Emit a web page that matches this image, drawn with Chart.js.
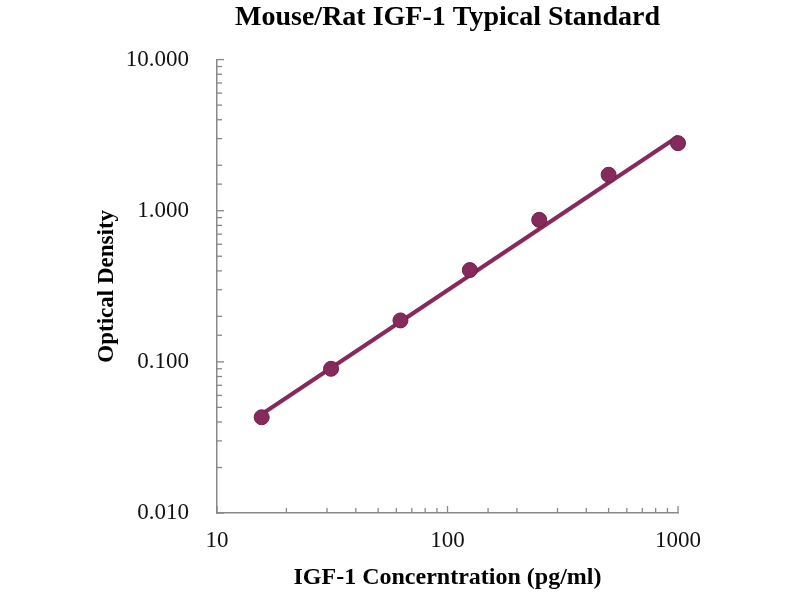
<!DOCTYPE html>
<html>
<head>
<meta charset="utf-8">
<script src="https://cdn.jsdelivr.net/npm/chart.js@4/dist/chart.umd.min.js"></script>
<style>
  html, body { margin: 0; padding: 0; background: #fff; }
  #wrap { width: 800px; height: 600px; }
</style>
</head>
<body>
<div id="wrap"><canvas id="chart"></canvas></div>
<script>
// standard curve points
const concentration = [15.625, 31.25, 62.5, 125, 250, 500, 1000];
const opticalDensity = [0.043, 0.090, 0.188, 0.405, 0.870, 1.73, 2.80];
// fitted line end points
const fitConcentration = [15.625, 1000];
const fitDensity = [0.045, 3.1];
const xMajor = [10, 100, 1000];
const yMajor = [0.01, 0.1, 1, 10];

const lineColor = "#862a5c";
const serif = "'Liberation Serif', 'Times New Roman', serif";

function isMajor(v, list) {
    return list.some(m => Math.abs(v - m) / m < 1e-6);
}

// small tick marks drawn inside the plot, like the original
const innerTicks = {
    id: "innerTicks",
    beforeDatasetsDraw(chart) {
        const ctx = chart.ctx;
        const area = chart.chartArea;
        const xs = chart.scales.x;
        const ys = chart.scales.y;
        ctx.save();
        ctx.strokeStyle = "#888";
        ctx.lineWidth = 1.3;
        xs.ticks.forEach(t => {
            const px = xs.getPixelForValue(t.value);
            const len = isMajor(t.value, xMajor) ? 7 : 5;
            ctx.beginPath();
            ctx.moveTo(px, area.bottom);
            ctx.lineTo(px, area.bottom - len);
            ctx.stroke();
        });
        ys.ticks.forEach(t => {
            const py = ys.getPixelForValue(t.value);
            const len = isMajor(t.value, yMajor) ? 7 : 5;
            ctx.beginPath();
            ctx.moveTo(area.left, py);
            ctx.lineTo(area.left + len, py);
            ctx.stroke();
        });
        ctx.restore();
    }
};

new Chart(document.getElementById("chart"), {
    type: "scatter",
    data: {
        datasets: [
            {
                label: "Fit",
                data: fitConcentration.map((x, i) => ({ x: x, y: fitDensity[i] })),
                showLine: true,
                borderColor: lineColor,
                borderWidth: 4,
                pointRadius: 0,
                clip: false,
                order: 2
            },
            {
                label: "Standard",
                data: concentration.map((x, i) => ({ x: x, y: opticalDensity[i] })),
                backgroundColor: lineColor,
                borderColor: "#6e1f49",
                borderWidth: 1,
                pointRadius: 7.5,
                clip: false,
                order: 1
            }
        ]
    },
    options: {
        responsive: true,
        maintainAspectRatio: false,
        animation: false,
        layout: { padding: { left: 93, right: 122, top: 1, bottom: 8 } },
        plugins: {
            legend: { display: false },
            tooltip: { enabled: false },
            title: {
                display: true,
                fullSize: false,
                text: "Mouse/Rat IGF-1 Typical Standard",
                color: "#000",
                font: { family: serif, size: 28, weight: "bold" },
                padding: { top: 0, bottom: 25 }
            }
        },
        scales: {
            x: {
                type: "logarithmic",
                min: 10,
                max: 1000,
                afterFit: scale => { scale.height = 79; },
                border: { display: true, color: "#888", width: 1.5 },
                grid: { display: true, drawOnChartArea: false, drawTicks: false },
                ticks: {
                    autoSkip: false,
                    maxRotation: 0,
                    padding: 14,
                    color: "#111",
                    font: { family: serif, size: 23 },
                    callback: v => isMajor(v, xMajor) ? String(v) : ""
                },
                title: {
                    display: true,
                    text: "IGF-1 Concerntration (pg/ml)",
                    color: "#000",
                    font: { family: serif, size: 24, weight: "bold" },
                    padding: { top: 6, bottom: 0 }
                }
            },
            y: {
                type: "logarithmic",
                min: 0.01,
                max: 10,
                afterFit: scale => { scale.width = 124; },
                border: { display: true, color: "#888", width: 1.5 },
                grid: { display: true, drawOnChartArea: false, drawTicks: false },
                ticks: {
                    autoSkip: false,
                    padding: 28,
                    color: "#111",
                    font: { family: serif, size: 23 },
                    callback: v => isMajor(v, yMajor) ? Number(v).toFixed(3) : ""
                },
                title: {
                    display: true,
                    text: "Optical Density",
                    color: "#000",
                    font: { family: serif, size: 23, weight: "bold" },
                    padding: { top: 0, bottom: 8 }
                }
            }
        }
    },
    plugins: [innerTicks]
});
</script>
</body>
</html>
